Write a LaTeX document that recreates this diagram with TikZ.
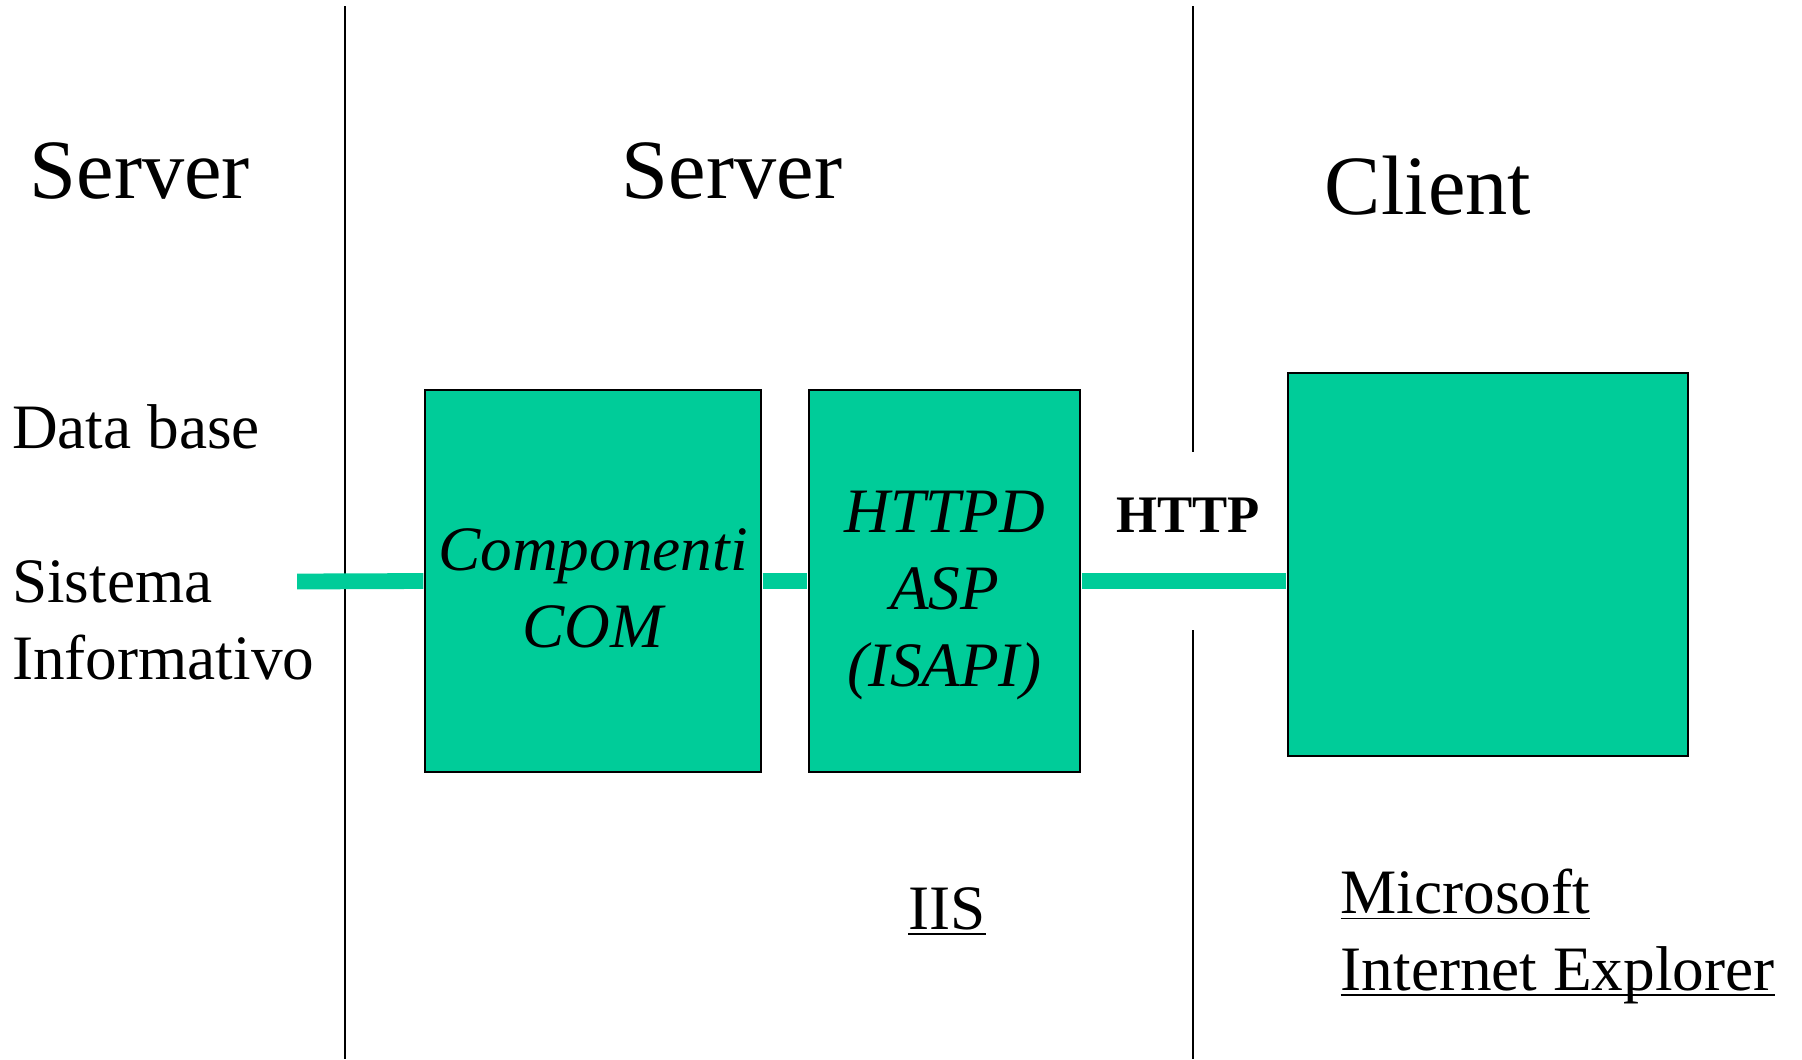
\documentclass[tikz,border=0pt]{standalone}
\usepackage{fontspec}
\setmainfont{Liberation Serif}
\usetikzlibrary{positioning}
\definecolor{boxGreen}{HTML}{00CC99}
\tikzset{bx/.style={draw, semithick, fill=boxGreen, inner sep=0pt,
  font=\fontsize{18}{21.8}\selectfont\itshape, align=center}}
\tikzset{g/.style={draw, line width=4.5pt, boxGreen, shorten <=0.15pt, shorten >=0.15pt}}
\tikzset{sep/.style={draw, semithick}}
\tikzset{big/.style={font=\fontsize{24}{29}\selectfont, inner sep=0pt}}
\tikzset{lbl/.style={font=\fontsize{18}{21.8}\selectfont, inner sep=0pt, align=left}}

\begin{document}
\begin{tikzpicture}
        \useasboundingbox (0,0) rectangle (18.02,-10.59);
        %% tier separators
        \coordinate (s1t) at (3.45,-0.06);
        \coordinate (s1b) at (3.45,-10.59);
        \coordinate (s2t) at (11.93,-0.06);
        \coordinate (s2m) at (11.93,-4.52);
        \coordinate (s2n) at (11.93,-6.30);
        \coordinate (s2b) at (11.93,-10.59);
        \draw [sep] (s1t) to (s1b);
        \draw [sep] (s2t) to (s2m);
        \draw [sep] (s2n) to (s2b);
        %% boxes
        \node (com) at (5.93,-5.81) [bx, minimum width=3.36cm, minimum height=3.82cm]
          {\rule{0pt}{16pt}Componenti\\COM};
        \node (httpd) at (9.445,-5.81) [bx, minimum width=2.71cm, minimum height=3.82cm]
          {\rule{0pt}{20pt}HTTPD\\ASP\\(ISAPI)};
        \node (client) at (14.88,-5.645) [bx, minimum width=4cm, minimum height=3.83cm] {};
        \coordinate (db) at (2.965,-5.815);
        \draw [g] (db) to (com.west);
        \draw [g] (com.east) to (httpd.west);
        \draw [g] (httpd.east) to (httpd.east -| client.west);
        %% labels
        \node (srvL) at (0.29,-1.98) [big, anchor=base west] {Server};
        \node (srvM) at (7.32,-1.98) [big, anchor=base] {Server};
        \node (cli) at (14.28,-2.14) [big, anchor=base] {Client};
        \node (dbase) at (0.115,-4.48) [lbl, anchor=base west] {Data base};
        \node (sisinf) at (0.115,-6.79) [lbl, anchor=base west] {Sistema\\Informativo};
        \node (http) at (11.88,-5.32) [anchor=base, inner sep=0pt,
          font=\fontsize{15}{18}\selectfont\bfseries] {HTTP};
        \node (iis) at (9.47,-9.29) [lbl, anchor=base] {\underline{\smash{IIS}}};
        \node (msie) at (13.40,-9.90) [lbl, anchor=base west]
          {\underline{\smash{Microsoft}}\\\underline{\smash{Internet Explorer}}};
\end{tikzpicture}
\end{document}
